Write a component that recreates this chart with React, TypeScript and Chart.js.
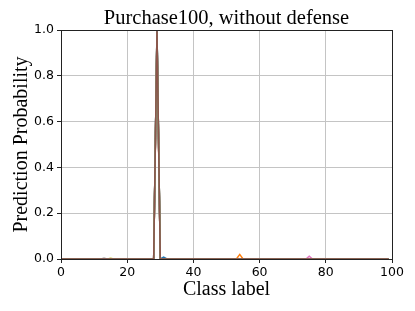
import React, { useEffect, useRef } from "react";
import { Chart, registerables } from "chart.js";

Chart.register(...registerables);

const TITLE = "Purchase100, without defense";
const X_TITLE = "Class label";
const Y_TITLE = "Prediction Probability";
const X_TICKS = [0, 20, 40, 60, 80, 100];
const Y_TICKS = [0, 0.2, 0.4, 0.6, 0.8, 1.0];

// Sparse class-probability points (class index, probability) per sample
const blueX = [0, 28, 29, 30, 31, 32, 99];
const blueY = [0, 0, 0.99, 0, 0.008, 0, 0];
const orangeX = [0, 28, 29, 30, 53, 54, 55, 99];
const orangeY = [0, 0, 0.97, 0, 0, 0.02, 0, 0];
const greenX = [0, 28, 29, 30, 99];
const greenY = [0, 0, 1.0, 0, 0];
const redX = [0, 28, 29, 30, 99];
const redY = [0, 0, 1.0, 0, 0];
const purpleX = [0, 28, 29, 30, 99];
const purpleY = [0, 0, 0.995, 0, 0];
const brownX = [0, 28, 29, 30, 99];
const brownY = [0, 0, 1.0, 0, 0];
const pinkX = [0, 28, 29, 30, 74, 75, 76, 99];
const pinkY = [0, 0, 0.98, 0, 0, 0.012, 0, 0];
const grayX = [0, 12, 13, 14, 28, 29, 30, 99];
const grayY = [0, 0, 0.003, 0, 0, 0.995, 0, 0];
const oliveX = [0, 14, 15, 16, 28, 29, 30, 99];
const oliveY = [0, 0, 0.003, 0, 0, 0.99, 0, 0];
const cyanX = [0, 28, 29, 30, 99];
const cyanY = [0, 0, 1.0, 0, 0];

const SERIES = [
  { xs: blueX, ys: blueY, color: "#1f77b4" },
  { xs: orangeX, ys: orangeY, color: "#ff7f0e" },
  { xs: greenX, ys: greenY, color: "#2ca02c" },
  { xs: redX, ys: redY, color: "#d62728" },
  { xs: purpleX, ys: purpleY, color: "#9467bd" },
  { xs: pinkX, ys: pinkY, color: "#e377c2" },
  { xs: cyanX, ys: cyanY, color: "#17becf" },
  { xs: oliveX, ys: oliveY, color: "#bcbd22" },
  { xs: grayX, ys: grayY, color: "#7f7f7f" },
  { xs: brownX, ys: brownY, color: "#8c564b" },
];

const framePlugin = {
  id: "frame",
  afterDatasetsDraw(chart: any) {
    const { ctx, chartArea } = chart;
    ctx.save();
    ctx.strokeStyle = "#222";
    ctx.lineWidth = 1;
    ctx.strokeRect(
      Math.round(chartArea.left) + 0.5,
      Math.round(chartArea.top) + 0.5,
      Math.round(chartArea.right - chartArea.left),
      Math.round(chartArea.bottom - chartArea.top)
    );
    ctx.restore();
  },
  afterDraw(chart: any) {
    const { ctx, chartArea } = chart;
    ctx.save();
    ctx.fillStyle = "#000";
    ctx.font = "20.5px 'Liberation Serif'";
    ctx.textAlign = "center";
    ctx.textBaseline = "alphabetic";
    ctx.fillText(TITLE, (chartArea.left + chartArea.right) / 2, chartArea.top - 6);
    ctx.restore();
  },
};

export default function App() {
  const ref = useRef<HTMLCanvasElement>(null);
  useEffect(() => {
    if (!ref.current) return;
    const n = SERIES.length;
    const chart = new Chart(ref.current, {
      type: "line",
      data: {
        datasets: SERIES.map((s, i) => ({
          data: s.xs.map((x, j) => ({ x, y: s.ys[j] })),
          borderColor: s.color,
          backgroundColor: s.color,
          borderWidth: 1.5,
          pointRadius: 0,
          tension: 0,
          order: n - i,
        })),
      },
      options: {
        animation: false,
        responsive: false,
        maintainAspectRatio: false,
        layout: { padding: { left: 0, right: 23, top: 30, bottom: 0 } },
        plugins: {
          legend: { display: false },
          tooltip: { enabled: false },
          title: { display: false },
        },
        scales: {
          x: {
            type: "linear",
            min: 0,
            max: 100,
            afterBuildTicks: (scale: any) => {
              scale.ticks = X_TICKS.map((v) => ({ value: v }));
            },
            afterFit: (scale: any) => {
              scale.height = 52;
            },
            ticks: {
              color: "#000",
              font: { family: "DejaVu Sans", size: 12.5 },
              padding: 2,
              maxRotation: 0,
              callback: (v: any) => String(v),
            },
            grid: { color: "#c4c4c4", lineWidth: 1, tickColor: "#222", tickLength: 4 },
            border: { color: "#222", width: 1 },
            title: {
              display: true,
              text: X_TITLE,
              color: "#000",
              font: { family: "Liberation Serif", size: 20, weight: "normal", lineHeight: 1.2 },
              padding: { top: 0, bottom: 9 },
            },
          },
          y: {
            type: "linear",
            min: 0,
            max: 1,
            afterBuildTicks: (scale: any) => {
              scale.ticks = Y_TICKS.map((v) => ({ value: v }));
            },
            afterFit: (scale: any) => {
              scale.width = 61;
            },
            ticks: {
              color: "#000",
              font: { family: "DejaVu Sans", size: 12.5 },
              padding: 3,
              callback: (v: any) => Number(v).toFixed(1),
            },
            grid: { color: "#c4c4c4", lineWidth: 1, tickColor: "#222", tickLength: 4 },
            border: { color: "#222", width: 1 },
            title: {
              display: true,
              text: Y_TITLE,
              color: "#000",
              font: { family: "Liberation Serif", size: 20, weight: "normal", lineHeight: 1.2 },
              padding: { top: 10, bottom: 0 },
            },
          },
        },
      },
      plugins: [framePlugin],
    });
    return () => chart.destroy();
  }, []);
  return (
    <div style={{ position: "fixed", left: 0, top: 0, width: 415, height: 311, background: "#fff" }}>
      <canvas ref={ref} width={415} height={311} style={{ width: 415, height: 311 }} />
    </div>
  );
}
